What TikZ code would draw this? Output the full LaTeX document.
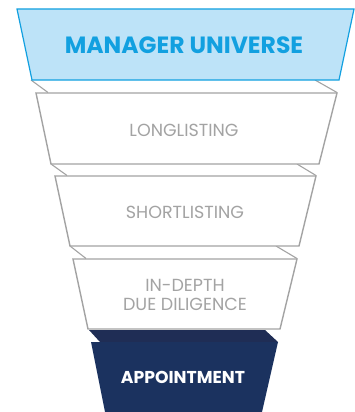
\documentclass[tikz,border=0pt]{standalone}
\usepackage{fontspec}
\setmainfont{Poppins}
\definecolor{skyfill}{HTML}{BDE3F8}
\definecolor{skyline}{HTML}{12A0E0}
\definecolor{stagegray}{HTML}{A3A3A3}
\definecolor{navy}{HTML}{1B325F}
\definecolor{navylip}{HTML}{1F2D55}
\begin{document}
\begin{tikzpicture}[x=1pt, y=-1pt,
    topstage/.style ={fill=skyfill, draw=skyline, line width=1.2pt, line join=miter},
    stage/.style ={fill=white, draw=stagegray, line width=1.4pt},
    lip/.style ={draw=stagegray, line width=1.1pt},
    laststage/.style ={fill=navy},
    toplabel/.style ={text=skyline, font=\fontsize{23.5}{25}\selectfont\bfseries},
    stagelabel/.style ={text=stagegray, font=\fontsize{17.5}{19}\selectfont, align=center},
    lastlabel/.style ={text=white, font=\fontsize{17.2}{19}\selectfont\bfseries}]
   \useasboundingbox (0,0) rectangle (355,412);

   % lips between the stages
   \draw[lip] (31,80) -- (48,92.5);
   \draw[lip] (315,80) -- (337,92.5);
   \draw[lip] (51,164) -- (67,175.5);
   \draw[lip] (297,164) -- (316,175.5);
   \draw[lip] (70,246) -- (86,258.5);
   \draw[lip] (276,246) -- (297,258.5);

   % stages
   \draw[topstage] (17,9) -- (354,9) -- (339,80) -- (32,80) -- cycle;
   \draw[stage] (36,93) -- (337,93) -- (319,164) -- (51,164) -- cycle;
   \draw[stage] (55,176) -- (316,176) -- (299,246) -- (70,246) -- cycle;
   \draw[stage] (73,259) -- (297,259) -- (280,329) -- (88,329) -- cycle;
   \fill[navylip] (89,330) -- (265,330) -- (278,342) -- (100,342) -- cycle;
   \fill[laststage] (91,342) -- (278,342) -- (262,412) -- (105,412) -- cycle;

   \node[toplabel] (universe) at (184,45) {MANAGER UNIVERSE};
   \node[stagelabel] (long) at (184,130) {LONGLISTING};
   \node[stagelabel] (short) at (185,212) {SHORTLISTING};
   \node[stagelabel] (depth) at (185,295) {IN-DEPTH\\DUE DILIGENCE};
   \node[lastlabel] (appoint) at (183,377) {APPOINTMENT};
\end{tikzpicture}
\end{document}
